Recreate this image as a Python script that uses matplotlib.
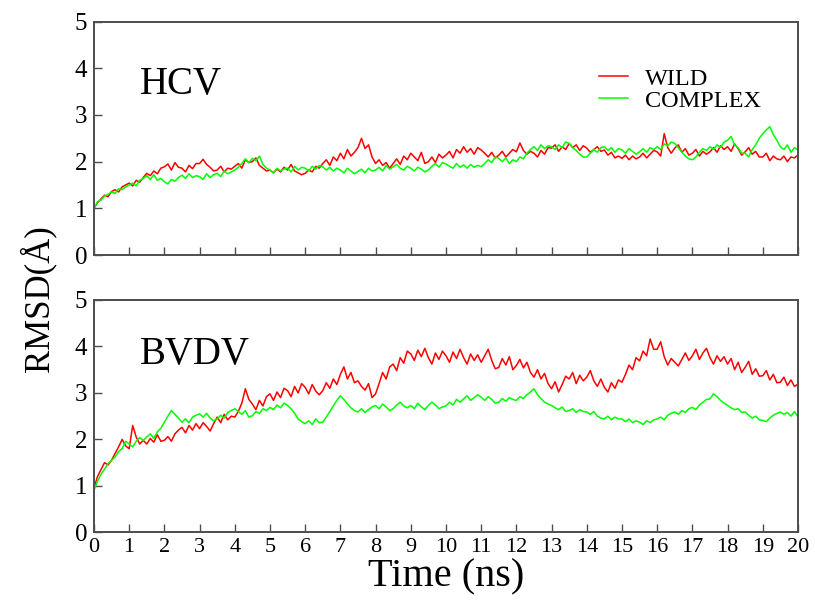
import numpy as np
import matplotlib
matplotlib.use("Agg")
import matplotlib.pyplot as plt

plt.rcParams["font.family"] = ["Liberation Serif", "DejaVu Serif"]

# tiempo de simulación (ns), paso 0.1 ns
time_ns = np.round(np.arange(0, 201) * 0.1, 1)

hcv_wild = [
    1.00, 1.12, 1.20, 1.28, 1.25, 1.36, 1.40, 1.35, 1.46, 1.50,
    1.54, 1.48, 1.60, 1.56, 1.66, 1.75, 1.70, 1.80, 1.74, 1.86,
    1.89, 1.95, 1.82, 1.98, 1.88, 1.86, 1.78, 1.92, 1.85, 1.96,
    1.96, 2.05, 1.94, 1.88, 1.80, 1.82, 1.90, 1.78, 1.86, 1.84,
    1.90, 1.96, 1.86, 2.04, 1.98, 2.00, 2.08, 1.92, 1.86, 1.80,
    1.82, 1.76, 1.84, 1.78, 1.88, 1.82, 1.94, 1.80, 1.76, 1.72,
    1.75, 1.82, 1.78, 1.90, 1.86, 1.96, 2.04, 1.92, 2.10, 2.02,
    2.18, 2.06, 2.26, 2.12, 2.20, 2.30, 2.50, 2.28, 2.36, 2.10,
    1.96, 2.04, 1.92, 1.98, 1.86, 1.96, 2.06, 1.94, 2.12, 2.04,
    2.18, 2.10, 2.02, 2.20, 1.96, 2.00, 2.10, 1.98, 2.16, 2.08,
    2.14, 2.22, 2.08, 2.26, 2.18, 2.32, 2.20, 2.28, 2.16, 2.30,
    2.25, 2.18, 2.10, 2.20, 2.08, 2.14, 2.22, 2.10, 2.18, 2.26,
    2.21, 2.40, 2.24, 2.16, 2.22, 2.18, 2.10, 2.24, 2.16, 2.30,
    2.29, 2.36, 2.22, 2.32, 2.26, 2.39, 2.30, 2.36, 2.24, 2.34,
    2.29, 2.20, 2.26, 2.32, 2.22, 2.25, 2.14, 2.20, 2.08, 2.12,
    2.07, 2.14, 2.04, 2.12, 2.06, 2.10, 2.18, 2.08, 2.16, 2.24,
    2.21, 2.12, 2.60, 2.30, 2.18, 2.29, 2.36, 2.20, 2.28, 2.14,
    2.18, 2.26, 2.12, 2.22, 2.16, 2.21, 2.30, 2.20, 2.34, 2.26,
    2.32, 2.22, 2.38, 2.28, 2.14, 2.21, 2.30, 2.16, 2.22, 2.10,
    2.10, 2.18, 2.02, 2.12, 2.06, 2.04, 2.12, 2.00, 2.10, 2.08,
    2.14,
]

hcv_complex = [
    1.00, 1.14, 1.18, 1.26, 1.30, 1.35, 1.32, 1.42, 1.40, 1.46,
    1.50, 1.54, 1.48, 1.60, 1.64, 1.70, 1.62, 1.72, 1.60, 1.64,
    1.57, 1.52, 1.62, 1.58, 1.66, 1.71, 1.64, 1.74, 1.66, 1.70,
    1.68, 1.62, 1.74, 1.66, 1.72, 1.75, 1.68, 1.80, 1.74, 1.78,
    1.82, 1.88, 1.96, 2.06, 1.98, 2.07, 2.02, 2.12, 1.94, 1.86,
    1.82, 1.76, 1.86, 1.80, 1.84, 1.86, 1.78, 1.90, 1.82, 1.88,
    1.86, 1.80, 1.90, 1.84, 1.92, 1.89, 1.82, 1.88, 1.80, 1.86,
    1.82, 1.76, 1.86, 1.80, 1.74, 1.79, 1.84, 1.76, 1.86, 1.80,
    1.82, 1.88, 1.80, 1.92, 1.84, 1.89, 1.94, 1.86, 1.82, 1.90,
    1.86, 1.80, 1.88, 1.84, 1.78, 1.82, 1.90, 1.96, 1.88, 1.98,
    1.95, 1.90, 1.86, 1.96, 1.88, 1.93, 1.86, 1.94, 1.88, 1.92,
    1.89, 1.96, 2.04, 1.98, 2.10, 2.07, 2.00, 2.08, 1.96, 2.04,
    2.00, 2.10, 2.06, 2.18, 2.26, 2.32, 2.24, 2.36, 2.28, 2.34,
    2.32, 2.26, 2.36, 2.30, 2.42, 2.39, 2.30, 2.24, 2.16, 2.10,
    2.10, 2.18, 2.26, 2.20, 2.30, 2.32, 2.24, 2.30, 2.20, 2.28,
    2.25, 2.18, 2.28, 2.22, 2.16, 2.21, 2.28, 2.20, 2.30, 2.26,
    2.32, 2.26, 2.38, 2.34, 2.42, 2.39, 2.30, 2.20, 2.12, 2.06,
    2.04, 2.10, 2.20, 2.28, 2.24, 2.32, 2.26, 2.36, 2.30, 2.42,
    2.46, 2.54, 2.36, 2.30, 2.18, 2.18, 2.10, 2.26, 2.36, 2.50,
    2.60, 2.68, 2.75, 2.58, 2.46, 2.32, 2.26, 2.36, 2.20, 2.30,
    2.25,
]

bvdv_wild = [
    0.95, 1.20, 1.35, 1.50, 1.45, 1.55, 1.70, 1.84, 2.00, 1.86,
    1.80, 2.30, 2.05, 1.90, 1.98, 1.90, 2.02, 1.94, 2.10, 1.96,
    1.98, 2.06, 1.96, 2.12, 2.20, 2.26, 2.14, 2.30, 2.20, 2.34,
    2.23, 2.36, 2.28, 2.18, 2.34, 2.48, 2.36, 2.54, 2.42, 2.50,
    2.48, 2.60, 2.78, 3.09, 2.86, 2.76, 2.64, 2.84, 2.72, 2.92,
    2.98, 2.84, 3.02, 2.90, 3.10, 3.05, 2.92, 3.14, 3.00, 3.20,
    3.12, 2.98, 3.18, 3.04, 2.96, 3.05, 3.22, 3.10, 3.30, 3.18,
    3.40, 3.56, 3.30, 3.44, 3.22, 3.26, 3.14, 3.06, 3.20, 2.90,
    2.98, 3.20, 3.44, 3.30, 3.56, 3.62, 3.48, 3.76, 3.64, 3.90,
    3.84, 3.70, 3.92, 3.78, 3.96, 3.76, 3.62, 3.86, 3.72, 3.90,
    3.80, 3.66, 3.88, 3.74, 3.94, 3.76, 3.62, 3.84, 3.70, 3.82,
    3.66, 3.80, 3.94, 3.70, 3.52, 3.55, 3.74, 3.60, 3.78, 3.50,
    3.59, 3.72, 3.54, 3.66, 3.44, 3.34, 3.50, 3.30, 3.42, 3.20,
    3.09, 3.24, 3.02, 3.18, 3.36, 3.30, 3.44, 3.20, 3.38, 3.26,
    3.34, 3.48, 3.26, 3.14, 3.30, 3.12, 3.02, 3.22, 3.10, 3.28,
    3.23, 3.40, 3.60, 3.50, 3.76, 3.69, 3.90, 3.80, 4.16, 3.94,
    3.94, 4.10, 3.78, 3.60, 3.74, 3.66, 3.58, 3.72, 3.86, 3.70,
    3.80, 3.94, 3.72, 3.86, 3.96, 3.76, 3.62, 3.80, 3.68, 3.78,
    3.62, 3.74, 3.50, 3.66, 3.44, 3.55, 3.68, 3.40, 3.52, 3.36,
    3.37, 3.48, 3.28, 3.40, 3.22, 3.23, 3.34, 3.16, 3.28, 3.14,
    3.19,
]

bvdv_complex = [
    0.90, 1.10, 1.25, 1.36, 1.48, 1.55, 1.62, 1.74, 1.80, 1.96,
    1.90, 1.84, 1.96, 2.04, 1.98, 2.05, 2.12, 2.02, 2.16, 2.24,
    2.37, 2.50, 2.62, 2.54, 2.46, 2.37, 2.44, 2.36, 2.48, 2.52,
    2.55, 2.48, 2.56, 2.46, 2.40, 2.44, 2.52, 2.46, 2.58, 2.62,
    2.66, 2.60, 2.54, 2.62, 2.48, 2.51, 2.60, 2.56, 2.66, 2.62,
    2.69, 2.64, 2.74, 2.68, 2.78, 2.73, 2.66, 2.56, 2.44, 2.38,
    2.34, 2.40, 2.32, 2.44, 2.36, 2.37, 2.48, 2.60, 2.72, 2.84,
    2.94, 2.86, 2.76, 2.68, 2.62, 2.59, 2.66, 2.58, 2.64, 2.70,
    2.73, 2.66, 2.76, 2.70, 2.62, 2.66, 2.74, 2.80, 2.72, 2.68,
    2.73, 2.66, 2.78, 2.70, 2.64, 2.73, 2.80, 2.74, 2.66, 2.70,
    2.72, 2.80, 2.74, 2.86, 2.80, 2.87, 2.94, 2.84, 2.90, 2.96,
    2.91, 2.84, 2.92, 2.86, 2.78, 2.80, 2.88, 2.82, 2.90, 2.86,
    2.84, 2.92, 2.88, 2.96, 3.02, 3.09, 2.96, 2.88, 2.80, 2.76,
    2.73, 2.68, 2.64, 2.70, 2.60, 2.62, 2.66, 2.58, 2.64, 2.60,
    2.59, 2.54, 2.60, 2.50, 2.46, 2.44, 2.50, 2.42, 2.48, 2.44,
    2.44, 2.38, 2.44, 2.36, 2.40, 2.37, 2.32, 2.40, 2.36, 2.42,
    2.44, 2.48, 2.42, 2.52, 2.56, 2.59, 2.54, 2.62, 2.58, 2.66,
    2.69, 2.64, 2.74, 2.80, 2.86, 2.87, 2.98, 2.92, 2.84, 2.78,
    2.73, 2.68, 2.64, 2.66, 2.58, 2.59, 2.52, 2.46, 2.50, 2.42,
    2.41, 2.38, 2.46, 2.52, 2.56, 2.59, 2.54, 2.58, 2.50, 2.60,
    2.48,
]

panel_names = ["HCV", "BVDV"]
series_labels = ["WILD", "COMPLEX"]
x_ticks = list(range(0, 21))
y_ticks = [0, 1, 2, 3, 4, 5]

WILD_COLOR = "#ff0000"
COMPLEX_COLOR = "#00ff00"
FRAME_COLOR = "#4d4d4d"

fig = plt.figure(figsize=(8.15, 6.0), dpi=100)
ax_top = fig.add_axes([0.1153, 0.575, 0.8638, 0.389])
ax_bot = fig.add_axes([0.1153, 0.1128, 0.8638, 0.3872])

datos = [(ax_top, hcv_wild, hcv_complex), (ax_bot, bvdv_wild, bvdv_complex)]

for (ax, wild, complex_), name in zip(datos, panel_names):
    ax.plot(time_ns, wild, color=WILD_COLOR, lw=1.1, label=series_labels[0])
    ax.plot(time_ns, complex_, color=COMPLEX_COLOR, lw=1.1, label=series_labels[1])
    ax.set_xlim(0, 20)
    ax.set_ylim(0, 5)
    ax.set_xticks(x_ticks)
    ax.set_yticks(y_ticks)
    ax.tick_params(axis="both", direction="in", length=6, width=1.0,
                   color=FRAME_COLOR, top=False, right=False)
    ax.tick_params(axis="y", labelsize=18, pad=5)
    ax.tick_params(axis="x", labelsize=16, pad=4)
    for sp in ax.spines.values():
        sp.set_color(FRAME_COLOR)
        sp.set_linewidth(1.4)
    ax.text(1.3, 3.45 if name == "HCV" else 3.62, name, fontsize=28,
            va="baseline", ha="left")

ax_top.tick_params(axis="x", labelbottom=False)

ax_top.legend(loc="upper left", bbox_to_anchor=(0.70, 0.855), frameon=False,
              fontsize=17.5, handlelength=1.2, handletextpad=0.7,
              labelspacing=0.0, borderpad=0.0)

ax_bot.set_xlabel("Time (ns)", fontsize=29, labelpad=1)
fig.text(0.047, 0.502, "RMSD(Å)", rotation=90, fontsize=25,
         ha="center", va="center")

fig.savefig("out.png", dpi=100)
